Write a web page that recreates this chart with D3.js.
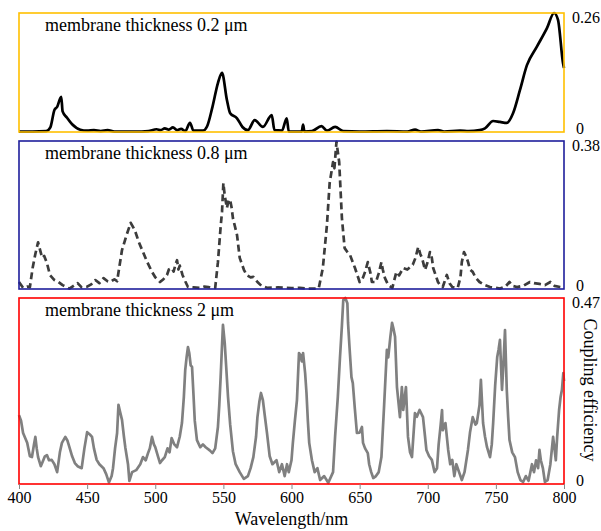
<html>
<head>
<script src="https://d3js.org/d3.v7.min.js"></script>
<style>
  body { margin: 0; background: #fff; }
  text { font-family: "Times New Roman", "Liberation Serif", serif; fill: #000; }
  .xaxis line { stroke: #888; }
  .xaxis .domain { stroke: none; }
</style>
</head>
<body>
<svg id="chart" width="601" height="531"></svg>
<script>
// wavelength (nm), coupling efficiency
const thin02 = [[400,0.001],[410,0.001],[420,0.002],[423,0.01],[426,0.048],[428,0.055],[431,0.077],[432,0.045],[435,0.032],[439,0.017],[445,0.005],[450,0.003],[455,0.004],[460,0.002],[465,0.004],[470,0.001],[480,0.001],[490,0.001],[495,0.002],[501,0.006],[504,0.004],[507,0.008],[510,0.005],[513,0.01],[516,0.004],[519,0.007],[522,0.002],[525.5,0.02],[528,0.003],[535,0.003],[538,0.012],[542,0.055],[546,0.107],[549,0.129],[552.6,0.07],[555,0.041],[560,0.03],[564,0.011],[568,0.004],[573,0.026],[579,0.011],[585.5,0.037],[587.5,0.004],[593,0.003],[596.5,0.03],[598,0.001],[603,0.001],[607.5,0.001],[608.5,0.016],[609.5,0.001],[615,0.002],[622,0.013],[626,0.003],[632,0.011],[638,0.002],[650,0.001],[670,0.002],[685,0.001],[690.7,0.005],[695,0.001],[707.5,0.004],[712,0.001],[723.7,0.003],[730,0.002],[738,0.004],[742,0.008],[748,0.024],[753,0.022],[758,0.02],[762.6,0.041],[767.7,0.092],[772.8,0.146],[780,0.186],[787.5,0.227],[792.7,0.26],[795.6,0.245],[799.3,0.15],[800,0.14]];

const thin08 = [[400,0.018],[403,0.003],[406,0.006],[408,0.005],[410,0.054],[412,0.09],[414,0.12],[415.5,0.1],[417,0.08],[418.5,0.085],[420.5,0.067],[422.7,0.036],[426,0.023],[429,0.018],[432,0.01],[437,0.001],[440,0.008],[443,0.015],[446,0.004],[450,0.006],[453,0.012],[456,0.023],[459,0.015],[462,0.028],[465,0.02],[467,0.018],[470,0.025],[472,0.02],[475.6,0.1],[479,0.139],[482,0.17],[485,0.151],[488,0.12],[491,0.095],[494,0.07],[497.6,0.044],[500,0.03],[503.5,0.018],[506,0.025],[508.6,0.036],[510,0.05],[512,0.054],[513.5,0.045],[515,0.065],[516,0.074],[517,0.05],[518,0.06],[520,0.036],[522,0.02],[524,0.005],[528,0.004],[533,0.003],[536,0.006],[539,0.005],[542,0.002],[544,0.003],[546,0.069],[548,0.16],[549,0.198],[550,0.272],[551,0.24],[552.6,0.208],[554,0.23],[555,0.228],[556,0.21],[557,0.182],[560,0.139],[562,0.08],[565,0.05],[567,0.036],[570,0.03],[572,0.031],[575,0.018],[578,0.008],[582,0.003],[590,0.004],[600,0.002],[606,0.003],[612,0.001],[617,0.001],[620,0.002],[623,0.054],[626,0.164],[628,0.272],[630.5,0.326],[631.5,0.31],[633,0.378],[635,0.326],[637,0.182],[639,0.105],[641,0.095],[643,0.087],[646.6,0.054],[650,0.018],[652,0.025],[654,0.044],[656,0.069],[658,0.04],[659,0.018],[662,0.018],[664,0.04],[666,0.069],[667,0.05],[668.6,0.028],[671,0.01],[674,0.003],[677,0.044],[679,0.035],[682,0.054],[685,0.05],[689,0.062],[691,0.08],[693,0.108],[694.5,0.09],[695.8,0.08],[698,0.049],[700,0.07],[701.6,0.095],[703,0.08],[704,0.054],[707.5,0.018],[709,0.01],[711,0.005],[714,0.036],[716,0.015],[718,0.005],[722,0.003],[724,0.03],[725,0.069],[726.6,0.095],[728,0.085],[729.6,0.069],[731,0.05],[733,0.044],[735,0.03],[738,0.018],[742,0.01],[745.7,0.005],[750,0.003],[753,0.001],[757,0.006],[760,0.018],[762,0.008],[765.5,0.005],[770,0.008],[775,0.018],[778,0.015],[782,0.013],[786,0.01],[790,0.018],[793,0.008],[797,0.005],[800,0.003]];

const thin2 = [[400,0.174],[401.5,0.16],[403,0.129],[406,0.104],[408,0.07],[409.5,0.068],[411,0.1],[412,0.119],[413,0.09],[414,0.068],[416,0.045],[417,0.053],[419,0.07],[420.5,0.073],[422,0.06],[424,0.061],[426,0.05],[428,0.03],[430,0.08],[431.5,0.104],[434,0.119],[435.5,0.11],[437,0.093],[439,0.07],[441,0.053],[443,0.045],[446,0.04],[448,0.09],[450,0.131],[452,0.125],[453.6,0.119],[455,0.09],[457,0.061],[459,0.05],[462,0.04],[464,0.025],[466,0.004],[468,0.02],[469,0.04],[470.5,0.09],[472,0.129],[473,0.2],[474,0.185],[475.6,0.162],[477,0.12],[478,0.093],[480,0.05],[481,0.008],[483,0.03],[486,0.035],[489,0.05],[491,0.068],[493,0.06],[494.7,0.078],[496,0.09],[497.6,0.119],[499,0.1],[500,0.093],[502,0.07],[503.5,0.053],[505,0.06],[507,0.068],[509,0.09],[510.5,0.08],[512,0.116],[514,0.1],[516,0.093],[518,0.12],[519.6,0.154],[521,0.22],[522,0.288],[523,0.32],[524,0.346],[525,0.33],[526,0.3],[527,0.296],[528,0.23],[529,0.16],[530.6,0.111],[533,0.093],[535,0.1],[537,0.093],[540,0.085],[542,0.078],[544,0.09],[546,0.144],[547,0.2],[548,0.27],[549,0.35],[549.7,0.402],[551,0.356],[552,0.3],[553.4,0.22],[555,0.15],[557,0.083],[559,0.05],[562,0.03],[565,0.013],[568,0.02],[570,0.04],[572,0.068],[574,0.12],[575,0.169],[576.5,0.21],[577.6,0.23],[579,0.212],[580.5,0.17],[582,0.129],[584,0.07],[586,0.05],[589,0.06],[591,0.03],[593,0.05],[595,0.02],[596.7,0.05],[598,0.03],[600,0.06],[601,0.104],[602.5,0.16],[604,0.212],[605.5,0.331],[606.5,0.326],[607.5,0.31],[608.5,0.331],[610,0.28],[611,0.23],[612,0.16],[613,0.104],[615,0.06],[617,0.03],[619,0.04],[621,0.01],[624,0.02],[627,0.003],[630.5,0.03],[632,0.12],[634,0.22],[635.6,0.321],[637,0.4],[638,0.465],[639.5,0.47],[641,0.457],[641.5,0.407],[642.5,0.35],[644,0.27],[645,0.255],[646.5,0.19],[648,0.129],[650,0.13],[651.7,0.144],[652.5,0.104],[654,0.09],[656,0.078],[657,0.05],[658.5,0.03],[660,0.015],[662,0.02],[664,0.03],[666,0.068],[668,0.2],[670,0.339],[671,0.32],[672.5,0.37],[673.8,0.407],[675,0.39],[676,0.372],[677.4,0.245],[679.6,0.169],[681,0.245],[682,0.187],[684,0.245],[685.5,0.119],[687,0.08],[688.4,0.068],[690.6,0.179],[692,0.17],[694,0.187],[695,0.18],[696.5,0.169],[698,0.12],[699,0.086],[701,0.07],[703,0.061],[705,0.03],[706.8,0.04],[708,0.1],[709.5,0.15],[710.5,0.187],[711,0.136],[713,0.154],[714,0.12],[715,0.086],[716.5,0.05],[718,0.061],[719.5,0.02],[721,0.05],[723,0.03],[725,0.01],[727,0.03],[729.5,0.086],[731,0.13],[733,0.169],[735,0.15],[736,0.154],[738,0.2],[739,0.263],[740.6,0.154],[742,0.12],[743.5,0.093],[745.7,0.068],[747,0.1],[748,0.154],[749.5,0.25],[751,0.321],[752,0.34],[753,0.364],[754.5,0.238],[755.5,0.3],[756.7,0.389],[758,0.238],[759,0.17],[760,0.111],[762,0.08],[764,0.068],[766,0.03],[768,0.01],[770,0.005],[772,0.02],[774,0.008],[776.5,0.05],[778,0.03],[779.5,0.06],[781,0.04],[782,0.086],[783,0.06],[784.5,0.04],[786,0.005],[788,0.01],[790,0.05],[792,0.119],[793,0.09],[794,0.06],[795,0.12],[796.4,0.187],[797.5,0.22],[798.5,0.238],[799.5,0.28],[800,0.26]];

const xTicks = [400, 450, 500, 550, 600, 650, 700, 750, 800];

const panels = [
  { data: thin02, title: "membrane thickness 0.2 \u03bcm", max: 0.26, maxLabel: "0.26", top: 13, bottom: 132, frame: "#ffc000", line: "#000", dash: null, smooth: true },
  { data: thin08, title: "membrane thickness 0.8 \u03bcm", max: 0.38, maxLabel: "0.38", top: 141, bottom: 289, frame: "#1f1f9c", line: "#3c3c3c", dash: "7,4", smooth: false },
  { data: thin2, title: "membrane thickness 2 \u03bcm", max: 0.47, maxLabel: "0.47", top: 298, bottom: 484, frame: "#ff0000", line: "#808080", dash: null, smooth: false }
];

const svg = d3.select("#chart");
const left = 19, right = 564;

const x = d3.scaleLinear().domain([400, 800]).range([left, right]);

panels.forEach(p => {
  const y = d3.scaleLinear().domain([0, p.max]).range([p.bottom, p.top]);

  const line = d3.line()
    .x(d => x(d[0]))
    .y(d => y(d[1]))
    .curve(p.smooth ? d3.curveMonotoneX : d3.curveLinear);

  svg.append("path")
    .datum(p.data)
    .attr("d", line)
    .attr("fill", "none")
    .attr("stroke", p.line)
    .attr("stroke-width", 2.7)
    .attr("stroke-linejoin", "round")
    .attr("stroke-dasharray", p.dash);

  svg.append("rect")
    .attr("x", left).attr("y", p.top)
    .attr("width", right - left).attr("height", p.bottom - p.top)
    .attr("fill", "none")
    .attr("stroke", p.frame)
    .attr("stroke-width", 1.6);

  svg.append("text")
    .attr("x", 45).attr("y", p.top + 18)
    .attr("font-size", 18)
    .text(p.title);

  // right-hand value labels
  svg.append("text")
    .attr("x", right + 8).attr("y", y(p.max) + 10)
    .attr("font-size", 16)
    .text(p.maxLabel);
  svg.append("text")
    .attr("x", right + 12).attr("y", y(0) + 2)
    .attr("font-size", 16)
    .text("0");
});

const xAxis = svg.append("g")
  .attr("class", "xaxis")
  .attr("transform", `translate(0,${panels[2].bottom})`)
  .call(d3.axisBottom(x).tickValues(xTicks).tickSize(5).tickPadding(3).tickFormat(d3.format("d")));
xAxis.selectAll("text")
  .attr("font-size", 16)
  .style("font-family", "'Times New Roman', 'Liberation Serif', serif")
  .attr("fill", "#000");

svg.append("text")
  .attr("x", (left + right) / 2).attr("y", 525)
  .attr("text-anchor", "middle")
  .attr("font-size", 18)
  .text("Wavelength/nm");

svg.append("text")
  .attr("transform", "translate(584,390) rotate(90)")
  .attr("text-anchor", "middle")
  .attr("font-size", 18)
  .text("Coupling efficiency");
</script>
</body>
</html>
